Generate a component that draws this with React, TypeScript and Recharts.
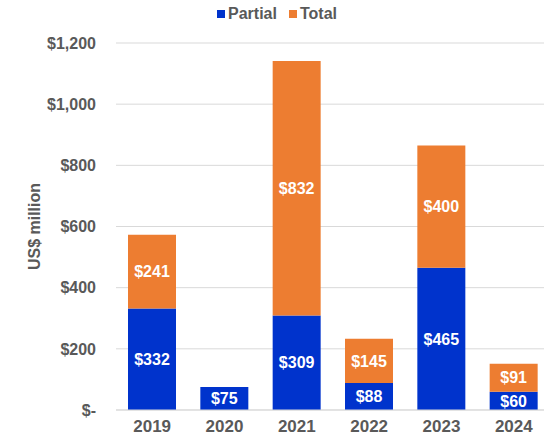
import React from 'react';
import { BarChart, Bar, XAxis, YAxis, CartesianGrid, LabelList } from 'recharts';

// values (US$ million)
const years = ['2019', '2020', '2021', '2022', '2023', '2024'];
const partial = [332, 75, 309, 88, 465, 60];
const total = [241, null, 832, 145, 400, 91];
const yTicks = [0, 200, 400, 600, 800, 1000, 1200];

const data = years.map((year, i) => ({ year, Partial: partial[i], Total: total[i] }));

const BLUE = '#0033CC';
const ORANGE = '#ED7D31';
const GREY = '#595959';
const FONT = '"Liberation Sans", Arial, sans-serif';

const money = (v: number) => (v === 0 ? '$-' : '$' + v.toLocaleString('en-US'));
const barLabel = (v: any) => (v == null || v === 0 ? '' : '$' + v);

export default function App() {
    return (
        <div style={{ position: 'absolute', left: 0, top: 0, width: 544, height: 438, overflow: 'hidden', background: '#fff', fontFamily: FONT }}>
            {/* legend */}
            <div style={{ position: 'absolute', top: 5, left: 0, width: 554, display: 'flex', justifyContent: 'center', gap: 12, fontSize: 16, fontWeight: 'bold', color: GREY }}>
                <span style={{ display: 'flex', alignItems: 'center', gap: 3 }}>
                    <span style={{ width: 8, height: 8, background: BLUE, display: 'inline-block' }} />Partial
                </span>
                <span style={{ display: 'flex', alignItems: 'center', gap: 3 }}>
                    <span style={{ width: 8, height: 8, background: ORANGE, display: 'inline-block' }} />Total
                </span>
            </div>

            <BarChart width={552} height={438} data={data} margin={{ top: 43, right: 2, left: 0, bottom: 0 }} barSize={48}>
                <CartesianGrid vertical={false} stroke="#D9D9D9" />
                <XAxis
                    dataKey="year"
                    height={28}
                    axisLine={{ stroke: '#D9D9D9' }}
                    tickLine={false}
                    tickMargin={4}
                    tick={{ fill: GREY, fontSize: 17, fontWeight: 'bold', fontFamily: FONT }}
                />
                <YAxis
                    width={116}
                    domain={[0, 1200]}
                    ticks={yTicks}
                    tickFormatter={money}
                    axisLine={false}
                    tickLine={false}
                    tickMargin={14}
                    tick={{ fill: GREY, fontSize: 16, fontWeight: 'bold', fontFamily: FONT }}
                    label={{ value: 'US$ million', angle: -90, position: 'center', dx: -24, fill: GREY, fontSize: 16, fontWeight: 'bold', fontFamily: FONT }}
                />
                <Bar dataKey="Partial" stackId="a" fill={BLUE} isAnimationActive={false}>
                    <LabelList dataKey="Partial" position="center" formatter={barLabel} fill="#fff" fontSize={16} fontWeight="bold" fontFamily={FONT} />
                </Bar>
                <Bar dataKey="Total" stackId="a" fill={ORANGE} isAnimationActive={false}>
                    <LabelList dataKey="Total" position="center" formatter={barLabel} fill="#fff" fontSize={16} fontWeight="bold" fontFamily={FONT} />
                </Bar>
            </BarChart>
        </div>
    );
}
